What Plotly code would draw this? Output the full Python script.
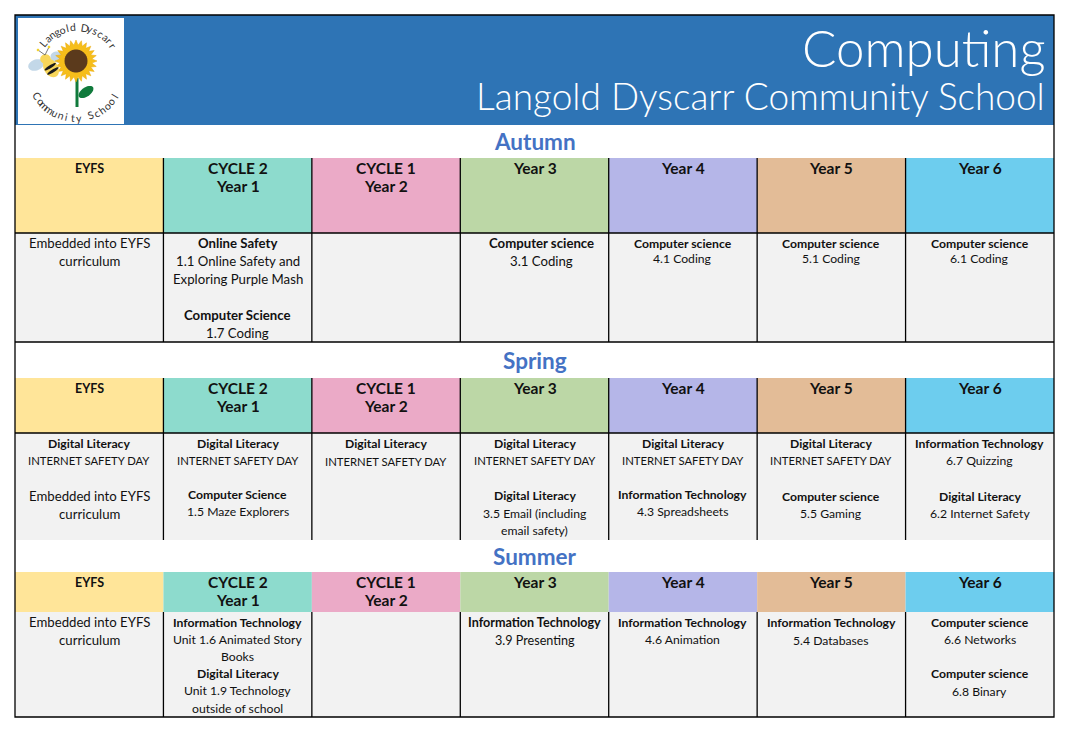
import math
import plotly.graph_objects as go

# ---------------- content ----------------
title = "Computing"
school = "Langold Dyscarr Community School"
seasons = ["Autumn", "Spring", "Summer"]
year_groups = ["EYFS", "CYCLE 2<br>Year 1", "CYCLE 1<br>Year 2",
               "Year 3", "Year 4", "Year 5", "Year 6"]
group_colours = ["#FFE599", "#8DDBCD", "#EBAAC7", "#BCD7A6",
                 "#B5B6E8", "#E3BC97", "#6DCDEE"]

# one list per cell; "*" = bold heading, "" = empty line
autumn_units = [
    ["Embedded into EYFS", "curriculum"],
    ["*Online Safety", "1.1 Online Safety and", "Exploring Purple Mash", "",
     "*Computer Science", "1.7 Coding"],
    [],
    ["*Computer science", "3.1 Coding"],
    ["*Computer science", "4.1 Coding"],
    ["*Computer science", "5.1 Coding"],
    ["*Computer science", "6.1 Coding"],
]
spring_units = [
    ["*Digital Literacy", "INTERNET SAFETY DAY", "", "Embedded into EYFS", "curriculum"],
    ["*Digital Literacy", "INTERNET SAFETY DAY", "", "*Computer Science", "1.5 Maze Explorers"],
    ["*Digital Literacy", "INTERNET SAFETY DAY"],
    ["*Digital Literacy", "INTERNET SAFETY DAY", "", "*Digital Literacy",
     "3.5 Email (including", "email safety)"],
    ["*Digital Literacy", "INTERNET SAFETY DAY", "", "*Information Technology", "4.3 Spreadsheets"],
    ["*Digital Literacy", "INTERNET SAFETY DAY", "", "*Computer science", "5.5 Gaming"],
    ["*Information Technology", "6.7 Quizzing", "", "*Digital Literacy", "6.2 Internet Safety"],
]
summer_units = [
    ["Embedded into EYFS", "curriculum"],
    ["*Information Technology", "Unit 1.6 Animated Story", "Books", "*Digital Literacy",
     "Unit 1.9 Technology", "outside of school"],
    [],
    ["*Information Technology", "3.9 Presenting"],
    ["*Information Technology", "4.6 Animation"],
    ["*Information Technology", "5.4 Databases"],
    ["*Computer science", "6.6 Networks", "", "*Computer science", "6.8 Binary"],
]
units = [autumn_units, spring_units, summer_units]

# ---------------- layout / style ----------------
W, H = 1066, 733
PAD = 8  # page body margin, figure is drawn 8px in from the window corner
LEFT, RIGHT, TOP, BOTTOM = 15, 1054, 15, 717
BAND = 125
COLW = (RIGHT - LEFT) / 7
# per season: title band top, header top, content top, content bottom
rows = [(125, 158, 233, 342), (342, 378, 433, 540), (540, 572, 612, 717)]
text_size = [[13.2, 13.2, 13, 13.2, 12.2, 12.2, 12.2],
             [12.2, 12.2, 12.2, 12.2, 12.2, 12.2, 12.2],
             [13.2, 12.2, 12.6, 12.6, 12.2, 12.2, 12.2]]
line_step = [[18, 18, 18, 18, 15.5, 15.5, 15.5],
             [17.7, 17, 18, 17.5, 17, 17.7, 17.7],
             [18, 17.2, 18, 18, 17, 18, 17.3]]
cell_shift = {(0, 3): 7}
BODY_FONT = "Lato"
HEAD_FONT = "Lato"

shapes = []
annotations = []


def rect(x0, y0, x1, y1, fill, line=None):
    shapes.append(dict(type="rect", xref="x", yref="y", x0=x0, y0=y0, x1=x1, y1=y1,
                       fillcolor=fill, layer="below",
                       line=dict(width=0) if line is None else line))


def hline(y, x0=LEFT, x1=RIGHT):
    shapes.append(dict(type="line", xref="x", yref="y", x0=x0, x1=x1, y0=y, y1=y,
                       line=dict(color="black", width=1.3)))


def vline(x, y0, y1):
    shapes.append(dict(type="line", xref="x", yref="y", x0=x, x1=x, y0=y0, y1=y1,
                       line=dict(color="black", width=1.3)))


def text(x, y, s, size, colour="black", family=BODY_FONT, anchor="center", angle=0, weight=None):
    f = dict(family=family, size=size, color=colour)
    if weight:
        f["weight"] = weight
    annotations.append(dict(x=x, y=y, xref="x", yref="y", text=s, showarrow=False,
                            xanchor=anchor, yanchor="middle", font=f, textangle=angle))


def ellipse(cx, cy, rx, ry, ang, fill, n=30):
    a = math.radians(ang)
    pts = []
    for k in range(n):
        t = 2 * math.pi * k / n
        px, py = rx * math.cos(t), ry * math.sin(t)
        pts.append((cx + px * math.cos(a) - py * math.sin(a),
                    cy + px * math.sin(a) + py * math.cos(a)))
    path = "M " + " L ".join(f"{p[0]:.2f},{p[1]:.2f}" for p in pts) + " Z"
    shapes.append(dict(type="path", xref="x", yref="y", path=path,
                       fillcolor=fill, line=dict(width=0)))


# header band
rect(LEFT, TOP, RIGHT, BAND, "#2E74B5")
text(1047, 47, title, 51, "white", HEAD_FONT, "right", weight=300)
text(1047, 95, school, 37, "white", HEAD_FONT, "right", weight=300)

# logo
rect(18, 18, 124, 124, "white")
ellipse(36, 65, 8, 5.5, -20, "#C3D8E8")
ellipse(57, 57, 6.5, 5.5, 10, "#C3D8E8")
shapes.append(dict(type="line", xref="x", yref="y", x0=77, x1=77, y0=78, y1=107,
                   line=dict(color="#107A3C", width=3)))
ellipse(86, 92, 8.5, 4.5, -35, "#107A3C")
petals = []
for k in range(48):
    r = 21 if k % 2 == 0 else 16
    t = 2 * math.pi * k / 48
    petals.append((76 + r * math.cos(t), 61 + r * math.sin(t)))
shapes.append(dict(type="path", xref="x", yref="y",
                   path="M " + " L ".join(f"{p[0]:.2f},{p[1]:.2f}" for p in petals) + " Z",
                   fillcolor="#F6BE1A", line=dict(color="#E9A90F", width=0.5)))
ellipse(76, 61, 11.5, 11.5, 0, "#5B3A1C")
ellipse(51, 68, 10, 7, 58, "#F8D65A")
for off in (-1.5, 3.5):
    a = math.radians(58)
    cx, cy = 51 + off * math.cos(a), 68 + off * math.sin(a)
    ellipse(cx, cy, 1.5, 6.6, 58, "#1A1A1A")
ellipse(45.5, 59, 5.3, 4.8, 0, "#F8D65A")
for ex, ey in ((38, 50), (49, 47)):
    shapes.append(dict(type="line", xref="x", yref="y", x0=45, x1=ex, y0=55, y1=ey,
                       line=dict(color="#555555", width=0.8)))
    ellipse(ex, ey, 1.3, 1.3, 0, "#F2D22E")

top_arc = "Langold Dyscarr"
for i, ch in enumerate(top_arc):
    th = -50 + i * 105 / (len(top_arc) - 1)
    r = math.radians(th)
    text(77 + 44 * math.sin(r), 71 - 44 * math.cos(r), ch, 10.5, "#333333", angle=th)
bottom_arc = "Community School"
for i, ch in enumerate(bottom_arc):
    ph = -58 + i * 116 / (len(bottom_arc) - 1)
    r = math.radians(ph)
    text(76 + 46 * math.sin(r), 72 + 46 * math.cos(r), ch, 10.5, "#333333", angle=-ph)

# seasons
for s, (band_top, head_top, body_top, body_bot) in enumerate(rows):
    text((LEFT + RIGHT) / 2, (band_top + head_top) / 2, "<b>" + seasons[s] + "</b>",
         22.5, "#4472C4")
    for c in range(7):
        x0 = LEFT + c * COLW
        x1 = x0 + COLW
        xm = (x0 + x1) / 2
        rect(x0, head_top, x1, body_top, group_colours[c])
        rect(x0, body_top, x1, body_bot, "#F2F2F2")
        head_lines = year_groups[c].split("<br>")
        for k, hl in enumerate(head_lines):
            hs = 12.5 if hl == "EYFS" else 15.5
            text(xm, head_top + 10 + k * 18, "<b>" + hl + "</b>", hs, "#111111", HEAD_FONT)
        step = line_step[s][c]
        tx = xm + cell_shift.get((s, c), 0)
        for k, ln in enumerate(units[s][c]):
            if not ln:
                continue
            bold = ln.startswith("*")
            label = "<b>" + ln[1:] + "</b>" if bold else ln
            size = text_size[s][c]
            if ln.isupper():
                size = 11.3
            elif c == 0 and not bold:
                size = 13.2
            text(tx, body_top + 10 + k * step, label, size, "#111111")

# grid lines
hline(233)
hline(342)
hline(433)
for c in range(1, 7):
    x = LEFT + c * COLW
    vline(x, rows[0][1], rows[0][3])
    vline(x, rows[1][1], rows[1][3])
    vline(x, rows[2][2], rows[2][3])
shapes.append(dict(type="rect", xref="x", yref="y", x0=LEFT, x1=RIGHT, y0=TOP, y1=BOTTOM,
                   line=dict(color="black", width=1.3)))

fig = go.Figure()
fig.update_layout(
    width=W - 2 * PAD, height=H - 2 * PAD, margin=dict(l=0, r=0, t=0, b=0),
    paper_bgcolor="white", plot_bgcolor="white",
    xaxis=dict(range=[PAD, W - PAD], visible=False, fixedrange=True),
    yaxis=dict(range=[H - PAD, PAD], visible=False, fixedrange=True),
    shapes=shapes, annotations=annotations, showlegend=False,
)
fig.write_html("out.html")
